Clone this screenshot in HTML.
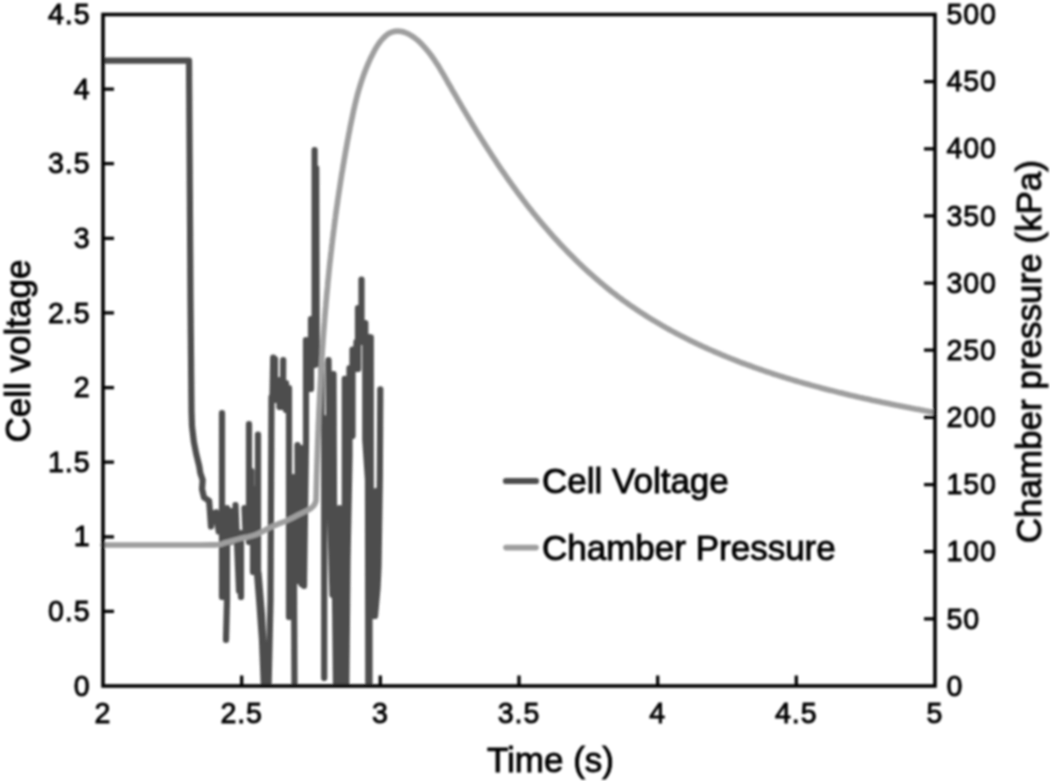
<!DOCTYPE html>
<html><head><meta charset="utf-8"><style>
html,body{margin:0;padding:0;background:#fff;}
body{width:1050px;height:781px;overflow:hidden;}
svg{display:block;font-family:"Liberation Sans", sans-serif;}
</style></head><body>
<svg width="1050" height="781" viewBox="0 0 1050 781">
<defs><filter id="bl" x="0" y="0" width="1050" height="781" filterUnits="userSpaceOnUse"><feGaussianBlur stdDeviation="0.8"/></filter></defs>
<rect width="1050" height="781" fill="#fff"/>
<g filter="url(#bl)">
<clipPath id="pc"><rect x="103" y="14.5" width="832" height="671.5"/></clipPath>
<path clip-path="url(#pc)" d="M103.0,60.7 L189.0,60.7 L190.5,300.0 L191.3,390.0 L191.5,411.0 L192.0,426.0 L193.8,441.5 L196.2,453.8 L197.7,460.0 L199.2,466.0 L200.3,473.0 L202.7,480.0 L202.0,489.0 L204.0,497.5 L209.1,500.8 L209.7,508.5 L211.0,526.5 L213.0,513.6 L216.2,512.3 L218.7,531.5 M222.0,413.1 L222.0,596.9 M227.0,508.1 L227.0,600.0 L226.0,639.9 M231.0,511.1 L231.0,541.9 M235.5,505.1 L239.0,590.9 M241.0,533.1 L241.0,596.9 M244.5,508.1 L245.5,531.9 M249.0,424.1 L249.0,541.9 M251.5,471.1 L251.5,541.9 M253.0,488.1 L253.0,571.9 M258.0,434.6 L258.0,571.9 M255.0,548.1 L259.5,605.0 L262.0,640.0 L264.0,690.0 M258.5,573.1 L262.0,615.0 L264.0,655.0 L265.5,690.0 M271.5,397.1 L270.5,600.0 L268.5,690.0 M273.2,357.7 L272.5,396.9 M275.0,359.1 L275.0,396.9 M283.2,360.1 L283.0,406.9 M276.0,380.1 L276.0,399.9 M279.5,380.1 L279.5,406.9 M286.0,383.1 L286.0,409.9 M289.0,388.1 L289.0,616.9 M293.5,477.1 L294.5,690.0 M297.5,445.1 L298.0,580.9 M301.5,448.1 L301.5,583.9 M306.0,340.1 L306.0,440.0 L304.0,585.9 M311.0,319.1 L311.0,388.9 M314.6,150.1 L314.6,364.9 M316.2,168.1 L316.8,363.9 M321.5,363.1 L321.5,416.9 M324.2,418.1 L324.2,677.9 M328.5,360.1 L330.0,505.0 L332.5,594.9 M333.5,374.1 L334.0,500.0 L336.0,690.0 M339.5,508.1 L339.5,690.0 M344.8,378.9 L344.8,690.0 M349.5,368.1 L349.5,456.0 L347.5,560.0 L346.3,690.0 M352.5,349.6 L352.5,435.9 M356.5,341.9 L356.0,368.9 M358.0,308.1 L358.0,368.9 M361.5,279.6 L361.5,341.9 M365.3,323.1 L365.3,440.0 L368.0,480.0 L368.3,690.0 M369.5,337.1 L369.5,690.0 M370.8,337.3 L370.8,596.9 M376.0,491.1 L375.5,600.0 L373.5,615.9 M380.3,389.3 L379.8,480.0 L378.5,566.0 L377.5,588.0 L375.0,615.9" fill="none" stroke="#4e4e4e" stroke-width="6.2" stroke-linejoin="round" stroke-linecap="round"/>
<polyline points="103.0,545.0 122.3,545.0 150.3,545.0 179.0,545.0 200.0,545.0 210.5,544.9 215.1,544.9 216.9,544.7 219.0,544.5 221.4,544.2 222.8,543.7 224.0,543.2 226.0,542.5 229.0,541.7 232.4,540.7 236.2,539.6 240.0,538.6 243.9,537.7 247.9,536.9 252.0,535.9 256.0,534.6 260.0,532.8 264.1,530.7 268.1,528.5 272.0,526.6 275.6,525.1 279.1,523.7 282.5,522.4 286.0,521.0 289.6,519.3 293.3,517.4 296.9,515.6 300.0,514.0 302.7,512.7 305.1,511.5 307.2,510.5 309.0,509.5 310.4,508.7 311.4,507.9 312.2,507.2 313.0,506.5 313.7,505.6 314.4,504.6 314.8,503.6 315.2,503.0 316.0,501.0 316.0,499.0 316.1,497.1 316.1,495.1 316.2,493.1 316.2,491.2 316.3,489.2 316.3,487.2 316.4,485.3 316.4,483.3 316.5,481.3 316.5,479.4 316.6,477.4 316.6,475.4 316.7,473.4 316.8,471.5 316.8,469.5 316.9,467.5 316.9,465.6 317.0,463.6 317.1,461.6 317.1,459.6 317.2,457.7 317.3,455.7 317.3,453.7 317.4,451.8 317.5,449.8 317.5,447.8 317.6,445.8 317.7,443.9 317.7,441.9 317.8,439.9 317.9,438.0 318.0,436.0 318.0,434.0 318.1,432.0 318.2,430.1 318.3,428.1 318.3,426.1 318.4,424.1 318.5,422.2 318.6,420.2 318.7,418.2 318.8,416.2 318.8,414.3 318.9,412.3 319.0,410.3 319.1,408.3 319.2,406.4 319.3,404.4 319.4,402.4 319.5,400.4 319.6,398.5 319.7,396.5 319.8,394.5 319.9,392.5 320.0,390.6 320.1,388.6 320.2,386.6 320.3,384.6 320.4,382.7 320.5,380.7 320.6,378.7 320.7,376.7 320.8,374.8 321.0,372.8 321.1,370.8 321.2,368.8 321.3,366.9 321.4,364.9 321.6,362.9 321.7,361.0 321.8,359.0 321.9,357.0 322.1,355.0 322.2,353.1 322.3,351.1 322.4,349.1 322.6,347.1 322.7,345.2 322.9,343.2 323.0,341.2 323.1,339.2 323.3,337.3 323.4,335.3 323.6,333.3 323.7,331.3 323.9,329.4 324.0,327.4 324.2,325.4 324.3,323.5 324.5,321.5 324.6,319.5 324.8,317.5 324.9,315.6 325.1,313.6 325.3,311.6 325.4,309.7 325.6,307.7 325.8,305.7 325.9,303.7 326.1,301.8 326.3,299.8 326.5,297.8 326.6,295.9 326.8,293.9 327.0,291.9 327.2,290.0 327.4,288.0 327.6,286.0 327.7,284.1 327.9,282.1 328.1,280.1 328.3,278.2 328.5,276.2 328.7,274.2 328.9,272.3 329.1,270.3 329.3,268.3 329.5,266.4 329.7,264.4 329.9,262.4 330.2,260.5 330.4,258.5 330.6,256.5 330.8,254.6 331.0,252.6 331.3,250.6 331.5,248.7 331.7,246.7 331.9,244.8 332.2,242.8 332.4,240.8 332.6,238.9 332.9,236.9 333.1,235.0 333.4,233.0 333.6,231.0 333.9,229.1 334.1,227.1 334.4,225.2 334.6,223.2 334.9,221.3 335.1,219.3 335.4,217.3 335.6,215.4 335.9,213.4 336.2,211.5 336.4,209.5 336.7,207.6 337.0,205.6 337.3,203.7 337.6,201.7 337.8,199.8 338.1,197.8 338.4,195.9 338.7,193.9 339.0,192.0 339.3,190.0 339.6,188.1 339.9,186.1 340.2,184.2 340.5,182.2 340.8,180.3 341.1,178.3 341.4,176.4 341.7,174.4 342.0,172.5 342.4,170.5 342.7,168.6 343.0,166.7 343.3,164.7 343.7,162.8 344.0,160.8 344.3,158.9 344.7,156.9 345.0,155.0 345.3,153.1 345.7,151.1 346.0,149.2 346.4,147.3 346.7,145.3 347.1,143.4 347.4,141.4 347.8,139.5 348.2,137.6 348.5,135.6 348.9,133.7 349.3,131.8 349.7,129.9 350.0,127.9 350.4,126.0 350.8,124.1 351.2,122.1 351.6,120.2 352.0,118.3 352.4,116.4 352.8,114.4 353.2,112.5 353.6,110.6 354.0,108.7 354.5,106.7 354.9,104.8 355.4,102.9 355.9,101.0 356.3,99.1 356.8,97.1 357.3,95.2 357.8,93.3 358.4,91.4 358.9,89.5 359.5,87.6 360.1,85.6 360.7,83.7 361.3,81.8 361.9,79.9 362.6,78.0 363.2,76.1 363.9,74.2 364.6,72.3 365.4,70.4 366.1,68.5 366.9,66.6 367.7,64.7 368.5,62.8 369.4,60.9 370.2,59.0 371.1,57.1 372.1,55.2 373.0,53.4 374.0,51.5 375.0,49.7 376.0,47.9 377.1,46.1 378.2,44.4 379.4,42.8 380.5,41.2 381.7,39.8 383.0,38.4 384.3,37.1 385.6,35.9 386.9,34.8 388.3,33.8 389.8,33.0 391.3,32.3 392.8,31.8 394.4,31.4 396.0,31.2 397.6,31.1 399.3,31.2 401.0,31.4 402.7,31.8 404.4,32.3 406.2,33.0 407.9,33.7 409.6,34.6 411.3,35.6 412.9,36.7 414.6,37.8 416.2,39.1 417.8,40.4 419.3,41.8 420.8,43.3 422.3,44.8 423.7,46.3 425.1,47.9 426.4,49.4 427.7,51.0 429.0,52.6 430.3,54.2 431.5,55.8 432.6,57.4 433.8,59.1 434.9,60.7 436.0,62.4 437.1,64.1 438.2,65.7 439.2,67.4 440.2,69.1 441.2,70.8 442.2,72.5 443.2,74.2 444.2,75.9 445.2,77.6 446.2,79.3 447.1,81.0 448.1,82.8 449.1,84.5 450.1,86.2 451.1,87.9 452.0,89.6 453.0,91.3 454.0,93.0 455.0,94.7 456.0,96.4 457.0,98.1 457.9,99.8 458.9,101.5 459.9,103.2 460.9,104.9 461.9,106.6 462.9,108.3 463.9,110.0 464.9,111.7 465.9,113.4 466.9,115.1 468.0,116.8 469.0,118.5 470.0,120.2 471.0,121.9 472.0,123.6 473.0,125.2 474.1,126.9 475.1,128.6 476.1,130.3 477.1,132.0 478.2,133.7 479.2,135.3 480.3,137.0 481.3,138.7 482.3,140.3 483.4,142.0 484.4,143.7 485.5,145.3 486.6,147.0 487.6,148.7 488.7,150.3 489.8,152.0 490.8,153.6 491.9,155.3 493.0,156.9 494.1,158.6 495.2,160.2 496.2,161.9 497.3,163.5 498.4,165.2 499.5,166.8 500.6,168.4 501.7,170.1 502.9,171.7 504.0,173.3 505.1,174.9 506.2,176.5 507.3,178.2 508.5,179.8 509.6,181.4 510.8,183.0 511.9,184.6 513.1,186.2 514.2,187.8 515.4,189.4 516.5,191.0 517.7,192.6 518.9,194.2 520.0,195.7 521.2,197.3 522.4,198.9 523.6,200.5 524.8,202.0 526.0,203.6 527.2,205.2 528.4,206.7 529.6,208.3 530.9,209.8 532.1,211.4 533.3,212.9 534.6,214.5 535.8,216.0 537.1,217.5 538.3,219.1 539.6,220.6 540.8,222.1 542.1,223.6 543.4,225.1 544.7,226.6 546.0,228.1 547.3,229.6 548.6,231.1 549.9,232.6 551.2,234.1 552.5,235.6 553.8,237.1 555.1,238.5 556.5,240.0 557.8,241.4 559.1,242.9 560.5,244.3 561.8,245.8 563.2,247.2 564.6,248.7 565.9,250.1 567.3,251.5 568.7,252.9 570.1,254.3 571.5,255.7 572.9,257.1 574.3,258.5 575.7,259.9 577.1,261.3 578.5,262.7 579.9,264.0 581.4,265.4 582.8,266.8 584.2,268.1 585.7,269.4 587.1,270.8 588.6,272.1 590.0,273.4 591.5,274.7 593.0,276.0 594.5,277.4 596.0,278.6 597.4,279.9 598.9,281.2 600.4,282.5 602.0,283.7 603.5,285.0 605.0,286.3 606.5,287.5 608.0,288.7 609.6,290.0 611.1,291.2 612.7,292.4 614.2,293.6 615.8,294.8 617.3,296.0 618.9,297.2 620.5,298.3 622.0,299.5 623.6,300.7 625.2,301.8 626.8,302.9 628.4,304.1 630.0,305.2 631.6,306.3 633.3,307.4 634.9,308.5 636.5,309.6 638.1,310.7 639.8,311.8 641.4,312.9 643.1,313.9 644.7,315.0 646.4,316.0 648.0,317.1 649.7,318.1 651.4,319.1 653.0,320.2 654.7,321.2 656.4,322.2 658.1,323.2 659.8,324.2 661.5,325.2 663.2,326.1 664.9,327.1 666.6,328.1 668.3,329.0 670.0,330.0 671.7,330.9 673.5,331.9 675.2,332.8 676.9,333.7 678.7,334.6 680.4,335.5 682.2,336.4 683.9,337.3 685.7,338.2 687.4,339.1 689.2,340.0 691.0,340.9 692.7,341.7 694.5,342.6 696.3,343.4 698.1,344.3 699.8,345.1 701.6,345.9 703.4,346.8 705.2,347.6 707.0,348.4 708.8,349.2 710.6,350.0 712.4,350.8 714.2,351.6 716.1,352.4 717.9,353.2 719.7,353.9 721.5,354.7 723.3,355.5 725.2,356.2 727.0,357.0 728.8,357.7 730.7,358.5 732.5,359.2 734.3,359.9 736.2,360.6 738.0,361.4 739.9,362.1 741.7,362.8 743.6,363.5 745.5,364.2 747.3,364.8 749.2,365.5 751.0,366.2 752.9,366.9 754.8,367.6 756.6,368.2 758.5,368.9 760.4,369.5 762.3,370.2 764.2,370.8 766.0,371.5 767.9,372.1 769.8,372.7 771.7,373.3 773.6,374.0 775.5,374.6 777.4,375.2 779.3,375.8 781.2,376.4 783.1,377.0 785.0,377.6 786.9,378.2 788.8,378.7 790.7,379.3 792.6,379.9 794.5,380.5 796.4,381.0 798.3,381.6 800.2,382.1 802.1,382.7 804.0,383.2 805.9,383.8 807.8,384.3 809.8,384.8 811.7,385.4 813.6,385.9 815.5,386.4 817.4,386.9 819.4,387.4 821.3,388.0 823.2,388.5 825.1,389.0 827.0,389.5 829.0,390.0 830.9,390.4 832.8,390.9 834.7,391.4 836.7,391.9 838.6,392.4 840.5,392.8 842.4,393.3 844.4,393.8 846.3,394.2 848.2,394.7 850.1,395.2 852.1,395.6 854.0,396.1 855.9,396.5 857.8,396.9 859.8,397.4 861.7,397.8 863.6,398.3 865.6,398.7 867.5,399.1 869.4,399.5 871.3,400.0 873.3,400.4 875.2,400.8 877.1,401.2 879.0,401.6 880.9,402.0 882.9,402.4 884.8,402.8 886.7,403.2 888.6,403.6 890.5,404.0 892.5,404.4 894.4,404.8 896.3,405.2 898.2,405.5 900.1,405.9 902.0,406.3 904.0,406.7 905.9,407.1 907.8,407.4 909.7,407.8 911.6,408.2 913.5,408.5 915.4,408.9 917.3,409.2 919.2,409.6 921.1,410.0 923.0,410.3 924.9,410.7 926.8,411.0 928.7,411.4 930.6,411.7 932.5,412.1 934.4,412.4" fill="none" stroke="#9e9e9e" stroke-width="5.6" stroke-linejoin="round" stroke-linecap="round"/>
<rect x="103" y="14.5" width="832" height="671.5" fill="none" stroke="#000" stroke-width="3.6"/>
<path d="M103,611.4H114 M103,536.8H114 M103,462.2H114 M103,387.6H114 M103,312.9H114 M103,238.3H114 M103,163.7H114 M103,89.1H114 M935,618.9H924 M935,551.7H924 M935,484.6H924 M935,417.4H924 M935,350.2H924 M935,283.1H924 M935,215.9H924 M935,148.8H924 M935,81.6H924 M241.7,686V675.5 M380.3,686V675.5 M519.0,686V675.5 M657.7,686V675.5 M796.3,686V675.5" stroke="#000" stroke-width="3.3" fill="none"/>
<g font-size="28.6" letter-spacing="0.9" stroke="#000" stroke-width="0.9"><text x="90.5" y="695.6" text-anchor="end">0</text><text x="90.5" y="621.0" text-anchor="end">0.5</text><text x="90.5" y="546.4" text-anchor="end">1</text><text x="90.5" y="471.8" text-anchor="end">1.5</text><text x="90.5" y="397.2" text-anchor="end">2</text><text x="90.5" y="322.5" text-anchor="end">2.5</text><text x="90.5" y="247.9" text-anchor="end">3</text><text x="90.5" y="173.3" text-anchor="end">3.5</text><text x="90.5" y="98.7" text-anchor="end">4</text><text x="90.5" y="24.1" text-anchor="end">4.5</text><text x="946.5" y="695.6">0</text><text x="946.5" y="628.5">50</text><text x="946.5" y="561.3">100</text><text x="946.5" y="494.2">150</text><text x="946.5" y="427.0">200</text><text x="946.5" y="359.9">250</text><text x="946.5" y="292.7">300</text><text x="946.5" y="225.5">350</text><text x="946.5" y="158.4">400</text><text x="946.5" y="91.2">450</text><text x="946.5" y="24.1">500</text><text x="103.0" y="723" text-anchor="middle">2</text><text x="241.7" y="723" text-anchor="middle">2.5</text><text x="380.3" y="723" text-anchor="middle">3</text><text x="519.0" y="723" text-anchor="middle">3.5</text><text x="657.7" y="723" text-anchor="middle">4</text><text x="796.3" y="723" text-anchor="middle">4.5</text><text x="935.0" y="723" text-anchor="middle">5</text></g>
<g font-size="35" stroke="#000" stroke-width="0.9"><text x="550.5" y="771.6" text-anchor="middle">Time (s)</text><text transform="translate(30,351) rotate(-90)" text-anchor="middle">Cell voltage</text><text transform="translate(1041,351.7) rotate(-90)" text-anchor="middle">Chamber pressure (kPa)</text><path d="M506,481H536" stroke="#4e4e4e" stroke-width="6.2" stroke-linecap="round"/><path d="M506,547.6H536" stroke="#9e9e9e" stroke-width="5.6" stroke-linecap="round"/><text x="542" y="492.5">Cell Voltage</text><text x="542" y="559.6">Chamber Pressure</text></g>
</g>
</svg>
</body></html>
